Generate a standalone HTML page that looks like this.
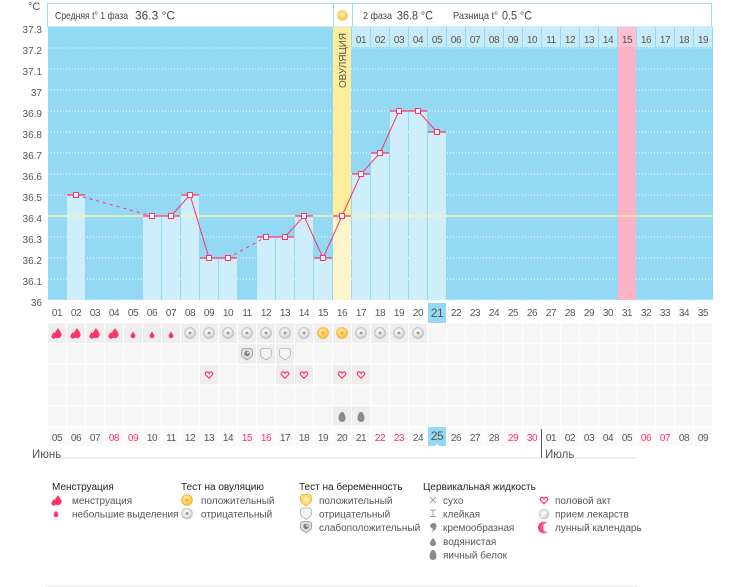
<!DOCTYPE html>
<html><head><meta charset="utf-8"><style>
html,body{margin:0;padding:0;background:#fff;}
svg{display:block;font-family:"Liberation Sans","DejaVu Sans",sans-serif;}
.ax{font-size:10px;fill:#555;text-anchor:end;}
.dl{font-size:10px;fill:#555;text-anchor:middle;letter-spacing:-0.4px;}
.rd{fill:#ff3366;}
.lh{font-size:10px;fill:#222;}
.li{font-size:10px;fill:#555;}
</style></head><body>
<svg width="750" height="587" viewBox="0 0 750 587" xmlns="http://www.w3.org/2000/svg">
<defs>
<pattern id="cellL" patternUnits="userSpaceOnUse" x="48" y="323.5" width="19" height="20.7"><rect x="0" y="0" width="18" height="19.5" fill="#f6f6f6"/></pattern>
<pattern id="cellD" patternUnits="userSpaceOnUse" x="48" y="323.5" width="19" height="20.7"><rect x="0" y="0" width="18" height="19.5" fill="#eeeeee"/></pattern>
<pattern id="cellR" patternUnits="userSpaceOnUse" x="48" y="427" width="19" height="20"><rect x="0" y="0" width="18" height="19" fill="#fafafa"/></pattern>
<radialGradient id="gGrey" cx="0.45" cy="0.4" r="0.6"><stop offset="0" stop-color="#ffffff"/><stop offset="0.6" stop-color="#e6e6e6"/><stop offset="1" stop-color="#c4c4c4"/></radialGradient>
<radialGradient id="gYel" cx="0.45" cy="0.4" r="0.6"><stop offset="0" stop-color="#fff2b8"/><stop offset="0.55" stop-color="#ffd768"/><stop offset="1" stop-color="#f5b53a"/></radialGradient>
<radialGradient id="gPill" cx="0.4" cy="0.4" r="0.7"><stop offset="0" stop-color="#fafafa"/><stop offset="1" stop-color="#c8c8c8"/></radialGradient>
<linearGradient id="gMoon" x1="0" y1="0" x2="1" y2="0"><stop offset="0" stop-color="#ff3366"/><stop offset="1" stop-color="#ff9ab4"/></linearGradient>
<path id="drop" d="M0,-1 C0.3,-0.45 0.8,0 0.8,0.45 A0.8,0.8 0 0 1 -0.8,0.45 C-0.8,0 -0.3,-0.45 0,-1Z"/>
<g id="menB"><use href="#drop" transform="translate(1,-0.5) scale(4.5)" fill="#ff3366"/><use href="#drop" transform="translate(-3.2,2) scale(3)" fill="#ff3366"/></g>
<g id="menS"><use href="#drop" transform="translate(0,0.5) scale(3)" fill="#ff3366"/></g>
<g id="ovN"><circle r="5.4" fill="url(#gGrey)" stroke="#bdbdbd" stroke-width="0.8"/><circle r="1.5" fill="#9a9a9a"/></g>
<g id="ovP"><circle r="5.4" fill="url(#gYel)" stroke="#f0b23a" stroke-width="0.8"/><circle r="1.6" fill="#f7a81e"/></g>
<path id="shield" d="M-5.5,-3 Q-5.5,-5.5 -2.5,-5.5 L2.5,-5.5 Q5.5,-5.5 5.5,-2.5 L5.5,0 Q5.5,3 2,4.5 L0,6 L-2,4.5 Q-5.5,3 -5.5,0Z"/>
<g id="prN"><use href="#shield" fill="#f3f3f3" stroke="#b0b0b0" stroke-width="0.8"/></g>
<g id="prW"><use href="#shield" fill="#dcdcdc" stroke="#999" stroke-width="0.8"/><circle cx="0" cy="-0.5" r="2.6" fill="#7a7a7a"/><circle cx="0.8" cy="-1.2" r="1" fill="#eee"/></g>
<g id="prP"><use href="#shield" fill="#ffd86e" stroke="#f0b23a" stroke-width="0.8"/><circle cx="0" cy="-0.5" r="2.4" fill="#fff0c0"/></g>
<path id="heart" d="M0,3.2 L-3.2,0 C-4.5,-1.5 -3,-3.5 -1.5,-3 C-0.8,-2.8 -0.3,-2.2 0,-1.6 C0.3,-2.2 0.8,-2.8 1.5,-3 C3,-3.5 4.5,-1.5 3.2,0 Z" fill="#fff" stroke="#ff3366" stroke-width="1.2"/>
<path id="egg" d="M0,-5 C2.4,-5 3.5,-1 3.5,1.5 A3.5,3.5 0 0 1 -3.5,1.5 C-3.5,-1 -2.4,-5 0,-5Z" fill="#8a8a8a"/>
</defs>

<text x="28" y="10" font-size="11" fill="#555">°C</text>

<rect x="47.5" y="3.5" width="664" height="23.5" fill="#fff" stroke="#a6dbef"/>
<line x1="333.5" y1="3.5" x2="333.5" y2="27" stroke="#a6dbef"/>
<line x1="352.5" y1="3.5" x2="352.5" y2="27" stroke="#a6dbef"/>
<circle cx="342.5" cy="15.5" r="5" fill="url(#gYel)" stroke="#f7d48a" stroke-width="1"/>
<text x="55" y="19" font-size="10.5" fill="#444" textLength="73" lengthAdjust="spacingAndGlyphs">Средняя t° 1 фаза</text>
<text x="135" y="19.5" font-size="12" fill="#444" textLength="40" lengthAdjust="spacingAndGlyphs">36.3 °C</text>
<text x="363" y="19" font-size="10.5" fill="#444" textLength="29" lengthAdjust="spacingAndGlyphs">2 фаза</text>
<text x="397" y="19.5" font-size="12" fill="#444" textLength="36" lengthAdjust="spacingAndGlyphs">36.8 °C</text>
<text x="453" y="19" font-size="10.5" fill="#444" textLength="45" lengthAdjust="spacingAndGlyphs">Разница t°</text>
<text x="502" y="19.5" font-size="12" fill="#444" textLength="30" lengthAdjust="spacingAndGlyphs">0.5 °C</text>

<rect x="48" y="27" width="665" height="273" fill="#93d9f3"/>
<g stroke="#ffffff" stroke-width="1" stroke-dasharray="1,2">
<line x1="48" y1="48" x2="713" y2="48"/>
<line x1="48" y1="69" x2="713" y2="69"/>
<line x1="48" y1="90" x2="713" y2="90"/>
<line x1="48" y1="111" x2="713" y2="111"/>
<line x1="48" y1="132" x2="713" y2="132"/>
<line x1="48" y1="153" x2="713" y2="153"/>
<line x1="48" y1="174" x2="713" y2="174"/>
<line x1="48" y1="195" x2="713" y2="195"/>
<line x1="48" y1="237" x2="713" y2="237"/>
<line x1="48" y1="258" x2="713" y2="258"/>
<line x1="48" y1="279" x2="713" y2="279"/>
<line x1="48" y1="300" x2="713" y2="300"/>
</g>

<rect x="333" y="27" width="18" height="189" fill="#fdee9c"/>
<rect x="333" y="216" width="18" height="84" fill="#fff5cb"/>
<text transform="translate(346,60.5) rotate(-90)" font-size="10.5" fill="#555" text-anchor="middle" textLength="55" lengthAdjust="spacingAndGlyphs">ОВУЛЯЦИЯ</text>
<rect x="618" y="27" width="18" height="273" fill="#ffb3c6"/>

<g fill="#ceeefb">
<rect x="67" y="195" width="18" height="105"/>
<rect x="143" y="216" width="18" height="84"/>
<rect x="162" y="216" width="18" height="84"/>
<rect x="181" y="195" width="18" height="105"/>
<rect x="200" y="258" width="18" height="42"/>
<rect x="219" y="258" width="18" height="42"/>
<rect x="257" y="237" width="18" height="63"/>
<rect x="276" y="237" width="18" height="63"/>
<rect x="295" y="216" width="18" height="84"/>
<rect x="314" y="258" width="18" height="42"/>
<rect x="352" y="174" width="18" height="126"/>
<rect x="371" y="153" width="18" height="147"/>
<rect x="390" y="111" width="18" height="189"/>
<rect x="409" y="111" width="18" height="189"/>
<rect x="428" y="132" width="18" height="168"/>
</g>

<g fill="#c8ebfa">
<rect x="352" y="27" width="18" height="20"/><rect x="371" y="27" width="18" height="20"/><rect x="390" y="27" width="18" height="20"/><rect x="409" y="27" width="18" height="20"/><rect x="428" y="27" width="18" height="20"/><rect x="447" y="27" width="18" height="20"/><rect x="466" y="27" width="18" height="20"/><rect x="485" y="27" width="18" height="20"/><rect x="504" y="27" width="18" height="20"/><rect x="523" y="27" width="18" height="20"/><rect x="542" y="27" width="18" height="20"/><rect x="561" y="27" width="18" height="20"/><rect x="580" y="27" width="18" height="20"/><rect x="599" y="27" width="18" height="20"/><rect x="637" y="27" width="18" height="20"/><rect x="656" y="27" width="18" height="20"/><rect x="675" y="27" width="18" height="20"/><rect x="694" y="27" width="18" height="20"/>
</g>
<rect x="618" y="27" width="18" height="20" fill="#ffbfd0"/>
<g class="dl">
<text x="361" y="43">01</text><text x="380" y="43">02</text><text x="399" y="43">03</text><text x="418" y="43">04</text><text x="437" y="43">05</text><text x="456" y="43">06</text><text x="475" y="43">07</text><text x="494" y="43">08</text><text x="513" y="43">09</text><text x="532" y="43">10</text><text x="551" y="43">11</text><text x="570" y="43">12</text><text x="589" y="43">13</text><text x="608" y="43">14</text><text x="627" y="43">15</text><text x="646" y="43">16</text><text x="665" y="43">17</text><text x="684" y="43">18</text><text x="703" y="43">19</text>
</g>

<line x1="48" y1="216" x2="713" y2="216" stroke="#f7f2a8" stroke-width="1.5"/>

<g stroke="#ff3366" stroke-width="1.3">
<line x1="67" y1="195" x2="85" y2="195"/>
<line x1="143" y1="216" x2="161" y2="216"/>
<line x1="162" y1="216" x2="180" y2="216"/>
<line x1="181" y1="195" x2="199" y2="195"/>
<line x1="200" y1="258" x2="218" y2="258"/>
<line x1="219" y1="258" x2="237" y2="258"/>
<line x1="257" y1="237" x2="275" y2="237"/>
<line x1="276" y1="237" x2="294" y2="237"/>
<line x1="295" y1="216" x2="313" y2="216"/>
<line x1="314" y1="258" x2="332" y2="258"/>
<line x1="333" y1="216" x2="351" y2="216"/>
<line x1="352" y1="174" x2="370" y2="174"/>
<line x1="371" y1="153" x2="389" y2="153"/>
<line x1="390" y1="111" x2="408" y2="111"/>
<line x1="409" y1="111" x2="427" y2="111"/>
<line x1="428" y1="132" x2="446" y2="132"/>
</g>
<g fill="none" stroke="#ff3366" stroke-width="1">
<polyline points="152,216 171,216 190,195 209,258 228,258"/>
<polyline points="266,237 285,237 304,216 323,258 342,216 361,174 380,153 399,111 418,111 437,132"/>
<line x1="76" y1="195" x2="152" y2="216" stroke-dasharray="3,4"/>
<line x1="228" y1="258" x2="266" y2="237" stroke-dasharray="3,4"/>
</g>
<g fill="#fff" stroke="#ff3366" stroke-width="1">
<rect x="73.5" y="192.5" width="5" height="5"/>
<rect x="149.5" y="213.5" width="5" height="5"/>
<rect x="168.5" y="213.5" width="5" height="5"/>
<rect x="187.5" y="192.5" width="5" height="5"/>
<rect x="206.5" y="255.5" width="5" height="5"/>
<rect x="225.5" y="255.5" width="5" height="5"/>
<rect x="263.5" y="234.5" width="5" height="5"/>
<rect x="282.5" y="234.5" width="5" height="5"/>
<rect x="301.5" y="213.5" width="5" height="5"/>
<rect x="320.5" y="255.5" width="5" height="5"/>
<rect x="339.5" y="213.5" width="5" height="5"/>
<rect x="358.5" y="171.5" width="5" height="5"/>
<rect x="377.5" y="150.5" width="5" height="5"/>
<rect x="396.5" y="108.5" width="5" height="5"/>
<rect x="415.5" y="108.5" width="5" height="5"/>
<rect x="434.5" y="129.5" width="5" height="5"/>
</g>

<g class="ax">
<text x="42" y="33">37.3</text><text x="42" y="54">37.2</text><text x="42" y="75">37.1</text><text x="42" y="96">37</text><text x="42" y="117">36.9</text><text x="42" y="138">36.8</text><text x="42" y="159">36.7</text><text x="42" y="180">36.6</text><text x="42" y="201">36.5</text><text x="42" y="222">36.4</text><text x="42" y="243">36.3</text><text x="42" y="264">36.2</text><text x="42" y="285">36.1</text><text x="42" y="306">36</text>
</g>

<rect x="428" y="303" width="18" height="20" fill="#93d9f3"/>
<g class="dl">
<text x="57" y="316">01</text><text x="76" y="316">02</text><text x="95" y="316">03</text><text x="114" y="316">04</text><text x="133" y="316">05</text><text x="152" y="316">06</text><text x="171" y="316">07</text><text x="190" y="316">08</text><text x="209" y="316">09</text><text x="228" y="316">10</text><text x="247" y="316">11</text><text x="266" y="316">12</text><text x="285" y="316">13</text><text x="304" y="316">14</text><text x="323" y="316">15</text><text x="342" y="316">16</text><text x="361" y="316">17</text><text x="380" y="316">18</text><text x="399" y="316">19</text><text x="418" y="316">20</text><text x="437" y="317" font-size="12">21</text><text x="456" y="316">22</text><text x="475" y="316">23</text><text x="494" y="316">24</text><text x="513" y="316">25</text><text x="532" y="316">26</text><text x="551" y="316">27</text><text x="570" y="316">28</text><text x="589" y="316">29</text><text x="608" y="316">30</text><text x="627" y="316">31</text><text x="646" y="316">32</text><text x="665" y="316">33</text><text x="684" y="316">34</text><text x="703" y="316">35</text>
</g>

<rect x="48" y="323.5" width="665" height="103" fill="url(#cellL)"/>
<rect x="48" y="323.5" width="380" height="19.5" fill="url(#cellD)"/>
<rect x="238" y="344.2" width="57" height="19.5" fill="url(#cellD)"/>
<rect x="200" y="364.9" width="18" height="19.5" fill="url(#cellD)"/>
<rect x="276" y="364.9" width="37" height="19.5" fill="url(#cellD)"/>
<rect x="333" y="364.9" width="37" height="19.5" fill="url(#cellD)"/>
<rect x="333" y="406.3" width="37" height="19.5" fill="url(#cellD)"/>
<rect x="48" y="427" width="494" height="19" fill="url(#cellR)"/>
<rect x="543" y="427" width="170" height="19" fill="url(#cellR)"/>

<use href="#menB" x="57" y="333"/><use href="#menB" x="76" y="333"/><use href="#menB" x="95" y="333"/><use href="#menB" x="114" y="333"/>
<use href="#menS" x="133" y="334"/><use href="#menS" x="152" y="334"/><use href="#menS" x="171" y="334"/>
<use href="#ovN" x="190" y="333"/><use href="#ovN" x="209" y="333"/><use href="#ovN" x="228" y="333"/><use href="#ovN" x="247" y="333"/><use href="#ovN" x="266" y="333"/><use href="#ovN" x="285" y="333"/><use href="#ovN" x="304" y="333"/>
<use href="#ovP" x="323" y="333"/><use href="#ovP" x="342" y="333"/>
<use href="#ovN" x="361" y="333"/><use href="#ovN" x="380" y="333"/><use href="#ovN" x="399" y="333"/><use href="#ovN" x="418" y="333"/>
<use href="#prW" x="247" y="354"/><use href="#prN" x="266" y="354"/><use href="#prN" x="285" y="354"/>
<use href="#heart" x="209" y="375"/><use href="#heart" x="285" y="375"/><use href="#heart" x="304" y="375"/><use href="#heart" x="342" y="375"/><use href="#heart" x="361" y="375"/>
<use href="#egg" x="342" y="417"/><use href="#egg" x="361" y="417"/>

<rect x="428" y="427" width="18" height="19" fill="#93d9f3"/>
<path d="M435,446 L437,443.5 L439,446Z" fill="#fff"/>
<g class="dl">
<text x="57" y="441">05</text><text x="76" y="441">06</text><text x="95" y="441">07</text><text x="114" y="441" class="rd">08</text><text x="133" y="441" class="rd">09</text><text x="152" y="441">10</text><text x="171" y="441">11</text><text x="190" y="441">12</text><text x="209" y="441">13</text><text x="228" y="441">14</text><text x="247" y="441" class="rd">15</text><text x="266" y="441" class="rd">16</text><text x="285" y="441">17</text><text x="304" y="441">18</text><text x="323" y="441">19</text><text x="342" y="441">20</text><text x="361" y="441">21</text><text x="380" y="441" class="rd">22</text><text x="399" y="441" class="rd">23</text><text x="418" y="441">24</text><text x="437" y="440" font-size="12">25</text><text x="456" y="441">26</text><text x="475" y="441">27</text><text x="494" y="441">28</text><text x="513" y="441" class="rd">29</text><text x="532" y="441" class="rd">30</text><text x="551" y="441">01</text><text x="570" y="441">02</text><text x="589" y="441">03</text><text x="608" y="441">04</text><text x="627" y="441">05</text><text x="646" y="441" class="rd">06</text><text x="665" y="441" class="rd">07</text><text x="684" y="441">08</text><text x="703" y="441">09</text>
</g>
<line x1="541.5" y1="429" x2="541.5" y2="458" stroke="#555" stroke-width="1"/>
<line x1="58" y1="458" x2="637" y2="458" stroke="#dddddd" stroke-width="1"/>
<text x="32" y="458" font-size="11.5" fill="#555">Июнь</text>
<text x="545" y="458" font-size="11.5" fill="#555">Июль</text>

<text x="52" y="490" class="lh">Менструация</text>
<text x="181" y="490" class="lh">Тест на овуляцию</text>
<text x="299" y="490" class="lh">Тест на беременность</text>
<text x="423" y="490" class="lh">Цервикальная жидкость</text>

<use href="#menB" x="57" y="500"/>
<use href="#menS" x="56" y="513"/>
<text x="72" y="504" class="li">менструация</text>
<text x="72" y="517.5" class="li">небольшие выделения</text>

<use href="#ovP" x="187" y="500"/>
<use href="#ovN" x="187" y="513.5"/>
<text x="201" y="504" class="li">положительный</text>
<text x="201" y="517.5" class="li">отрицательный</text>

<use href="#prP" x="306" y="500"/>
<use href="#prN" x="306" y="513.5"/>
<use href="#prW" x="306" y="527"/>
<text x="319" y="504" class="li">положительный</text>
<text x="319" y="517.5" class="li">отрицательный</text>
<text x="319" y="531" class="li">слабоположительный</text>

<g stroke="#999" stroke-width="0.9" fill="none">
<line x1="430" y1="497" x2="436" y2="503"/><line x1="436" y1="497" x2="430" y2="503"/>
<line x1="430" y1="510" x2="436" y2="510"/><line x1="433" y1="510" x2="433" y2="516.5"/><line x1="430" y1="516.5" x2="436" y2="516.5"/>
</g>
<path d="M431,524 C433,522 437,523 436.5,526.5 C436,529.5 434,531 431.5,532 C433,530 433.5,529 432.5,528.5 C430,528 429.5,525.5 431,524Z" fill="#8a8a8a"/>
<use href="#drop" transform="translate(433,541.5) scale(3.8)" fill="#8a8a8a"/>
<use href="#egg" x="433" y="555"/>
<text x="443" y="504" class="li">сухо</text>
<text x="443" y="517.5" class="li">клейкая</text>
<text x="443" y="531" class="li">кремообразная</text>
<text x="443" y="545" class="li">водянистая</text>
<text x="443" y="558.5" class="li">яичный белок</text>

<use href="#heart" x="544" y="500.5"/>
<circle cx="544" cy="514" r="5" fill="url(#gPill)" stroke="#c4c4c4" stroke-width="0.6"/>
<line x1="541" y1="517" x2="547" y2="511" stroke="#fff" stroke-width="1.2"/>
<circle cx="544" cy="527.5" r="6" fill="url(#gMoon)"/>
<circle cx="547.6" cy="527.3" r="4.6" fill="#ffffff"/>
<text x="555" y="504" class="li">половой акт</text>
<text x="555" y="517.5" class="li">прием лекарств</text>
<text x="555" y="531" class="li">лунный календарь</text>

<line x1="45" y1="586" x2="637" y2="586" stroke="#e6e6e6" stroke-width="1"/>
</svg>
</body></html>
